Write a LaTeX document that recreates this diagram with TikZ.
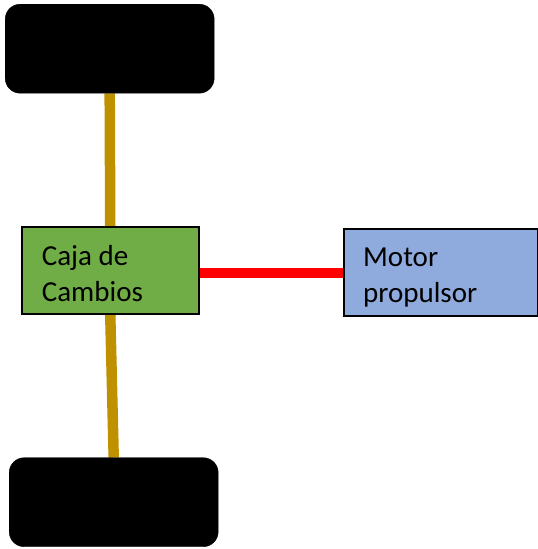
\documentclass[tikz,border=0pt]{standalone}
\usepackage{fontspec}
\setmainfont{Carlito}
\usetikzlibrary{calc,backgrounds}
\definecolor{boxgreen}{HTML}{70AD47}
\definecolor{boxblue}{HTML}{8FAADC}
\definecolor{axlegold}{HTML}{BF9000}
\definecolor{shaftred}{HTML}{FF0000}
\begin{document}
\begin{tikzpicture}[x=1pt,y=-1pt,
  wheel/.style={fill=black, draw=black, rounded corners=15pt, inner sep=0pt,
    minimum width=209pt, minimum height=89pt, anchor=north west},
  unitbox/.style={draw=black, line width=1.5pt, inner sep=0pt, anchor=north west},
  lbl/.style={font=\fontsize{29}{36}\selectfont, anchor=base west, inner sep=0pt},
  axle/.style={draw=axlegold, line width=10.5pt},
  shaft/.style={draw=shaftred, line width=10pt}]
\useasboundingbox (0,0) rectangle (538,549);
\node[wheel] (wtop) at (5,4) {};
\node[wheel] (wbot) at (9,457.5) {};
\node[unitbox, fill=boxgreen, minimum width=177pt, minimum height=87pt] (caja) at (21,226) {};
\node[unitbox, fill=boxblue, minimum width=194pt, minimum height=87pt] (motor) at (343,228) {};
\node[lbl] (caja1) at ($(caja.north west)+(20.7,39.7)$) {Caja de};
\node[lbl] (caja2) at ($(caja.north west)+(20.7,75.7)$) {Cambios};
\node[lbl] (motor1) at ($(motor.north west)+(20,38.7)$) {Motor};
\node[lbl] (motor2) at ($(motor.north west)+(20,74.7)$) {propulsor};
\begin{scope}[on background layer]
\draw[axle] (wtop.south) -- (caja.north);
\draw[axle] (caja.south) -- (wbot.north);
\draw[shaft] ($(caja.east)+(0,3)$) -- ($(motor.west)+(0,1)$);
\end{scope}
\end{tikzpicture}
\end{document}
